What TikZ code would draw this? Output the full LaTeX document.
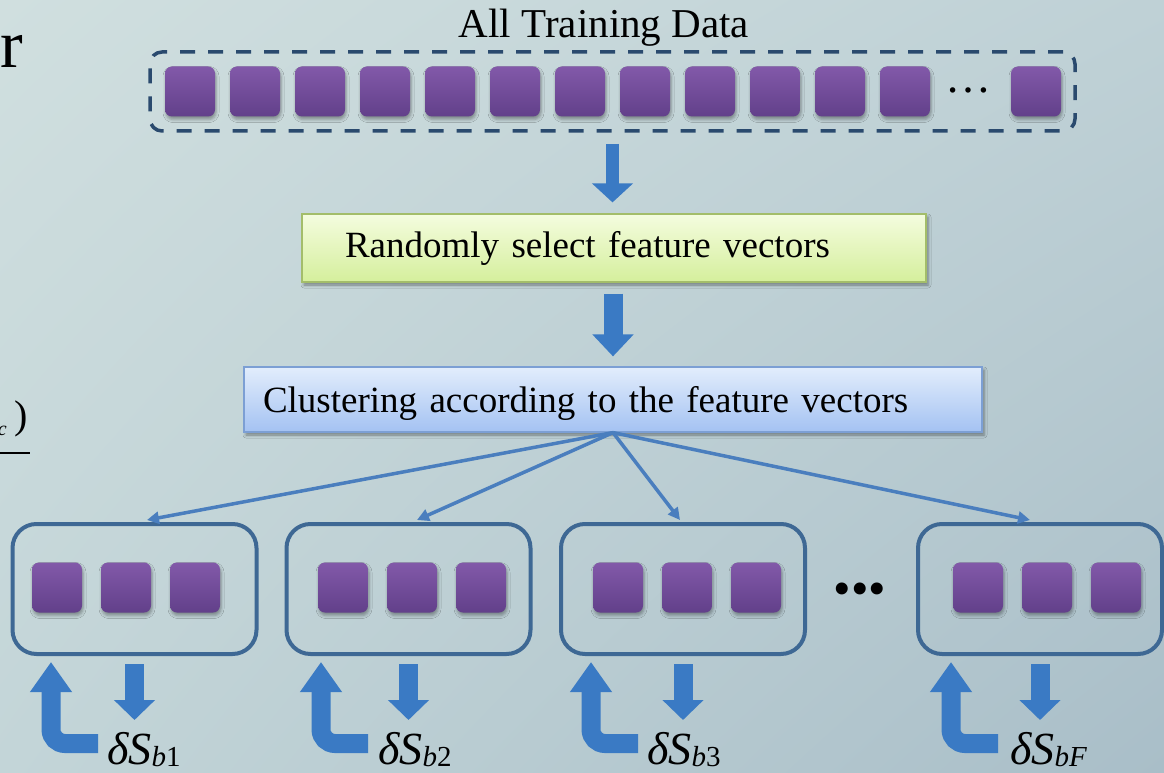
\documentclass[tikz,border=0pt]{standalone}
\usepackage{fontspec}
\setmainfont{Liberation Serif}
\usetikzlibrary{arrows.meta,shadows.blur,shadings}

\definecolor{bgUL}{HTML}{D0DFDF}
\definecolor{bgUR}{HTML}{BFD1D6}
\definecolor{bgLL}{HTML}{C3D5D8}
\definecolor{bgLR}{HTML}{A9BEC8}
\definecolor{cellTop}{HTML}{8259A9}
\definecolor{cellBot}{HTML}{62408A}
\definecolor{dashC}{HTML}{2A4A6E}
\definecolor{greenTop}{HTML}{F4FCDF}
\definecolor{greenBot}{HTML}{D5EF9C}
\definecolor{greenEdge}{HTML}{A3BD6A}
\definecolor{blueTop}{HTML}{E2EDFC}
\definecolor{blueBot}{HTML}{A4C2F2}
\definecolor{blueEdge}{HTML}{7C9FD4}
\definecolor{arrowBlue}{HTML}{3A7AC4}
\definecolor{lineBlue}{HTML}{4A7EBE}
\definecolor{boxBlue}{HTML}{3E6894}

% delta S with a lowered, smaller index
\newcommand\deltaS[1]{\textit{δS}\raisebox{-2pt}{\fontsize{29}{29}\selectfont #1}}

\begin{document}
\begin{tikzpicture}[x=1pt,y=-1pt,
  cell/.style={rounded corners=7pt, minimum width=50pt, minimum height=50pt,
    inner sep=0pt, top color=cellTop, bottom color=cellBot,
    blur shadow={shadow xshift=1pt, shadow yshift=-3pt,
      shadow blur radius=3pt, shadow opacity=35}},
  databox/.style={draw=dashC, line width=3.5pt, dash pattern=on 15pt off 13pt,
    rounded corners=12pt, minimum width=925pt, minimum height=79pt, inner sep=0pt},
  stepgreen/.style={draw=greenEdge, line width=1.2pt,
    top color=greenTop, bottom color=greenBot,
    text width=538pt, align=left, inner xsep=43pt, inner ysep=0pt,
    minimum height=68pt, font=\fontsize{37}{44}\selectfont,
    blur shadow={shadow xshift=2pt, shadow yshift=-3pt,
      shadow blur radius=3pt, shadow opacity=40}},
  stepblue/.style={draw=blueEdge, line width=1.2pt,
    top color=blueTop, bottom color=blueBot,
    text width=700pt, align=left, inner xsep=19pt, inner ysep=0pt,
    text height=25pt, text depth=0pt,
    minimum height=65pt, font=\fontsize{37}{44}\selectfont,
    blur shadow={shadow xshift=2pt, shadow yshift=-3pt,
      shadow blur radius=3pt, shadow opacity=40}},
  groupbox/.style={draw=boxBlue, line width=4pt, rounded corners=24pt,
    minimum width=244pt, minimum height=130pt, inner sep=0pt},
  conn/.style={draw=lineBlue, line width=3.5pt,
    -{Triangle[length=12pt,width=12pt]}},
  fatdown/.style={draw=arrowBlue, -{Triangle[width=40pt,length=#1]}},
  bentup/.style={draw=arrowBlue, line width=19pt, rounded corners=14pt,
    -{Triangle[width=40pt,length=30pt]}},
  deltalabel/.style={anchor=base west, inner sep=0pt, font=\fontsize{46}{46}\selectfont}
]
\useasboundingbox (0,0) rectangle (1164,773);
\clip (0,0) rectangle (1164,773);

% background
\shade[upper left=bgUL, upper right=bgUR, lower left=bgLL, lower right=bgLR]
  (0,0) rectangle (1164,773);

% pieces of slide text cut by the left edge
\node[anchor=base west, inner sep=0pt, font=\fontsize{68}{68}\selectfont] (edger) at (0,68) {r};
\node[anchor=base east, inner sep=0pt, font=\fontsize{20}{20}\selectfont\itshape] (edgec) at (7,435) {c};
\node[anchor=base east, inner sep=0pt, font=\fontsize{40}{40}\selectfont] (edgep) at (28,428) {)};
\draw[line width=1.5pt] (0,453) -- (30,453);

% all training data
\node[anchor=base, inner sep=0pt, font=\fontsize{41}{41}\selectfont] (title) at (604,38) {All Training Data};
\node[databox] (all) at (612.5,91.5) {};
\foreach \i in {0,...,11}
  \node[cell] (s\i) at ({190+65*\i},91.5) {};
\node[anchor=base, inner sep=0pt, font=\fontsize{46}{46}\selectfont] (sdots) at (968,93) {…};
\node[cell] (slast) at (1036,91.5) {};

% processing steps
\node[stepgreen] (select) at (614,248) {Randomly select feature vectors};
\node[stepblue] (cluster) at (613,399.5) {Clustering according to the feature vectors};

\draw[fatdown=19pt, line width=13pt, shorten <=11pt, shorten >=11pt]
  (all.south) -- (all.south |- select.north);
\draw[fatdown=22pt, line width=19pt, shorten <=11pt, shorten >=10pt]
  (cluster.north |- select.south) -- (cluster.north);

% cluster groups
\node[groupbox] (c1) at (134.5,589) {};
\node[groupbox] (c2) at (408.5,589) {};
\node[groupbox] (c3) at (683,589) {};
\node[groupbox] (c4) at (1040,589) {};

\foreach \b/\x in {1/57, 2/343, 3/618, 4/978}
  \foreach \k in {0,1,2}
    \node[cell] (q\b\k) at ({\x+69*\k},587.5) {};

\node[anchor=base, inner sep=0pt, font=\fontsize{50}{50}\selectfont] (cdots) at (860,605) {•••};

\foreach \b/\dx in {1/12.5, 2/8.5, 3/-3, 4/-10}
  \draw[conn] (cluster.south) -- ([xshift=\dx pt, yshift=2pt]c\b.north);

% per-group update arrows and labels
\foreach \b/\cx/\ux/\lx/\s in {1/134.5/51/107/\textit{b}1, 2/408.5/321/378/\textit{b}2, 3/683/591/647/\textit{b}3, 4/1040/951/1010/\textit{bF}} {
  \coordinate (d\b) at (\cx,720);
  \draw[fatdown=20pt, line width=19pt, shorten <=8pt] (c\b.south) -- (d\b);
  \coordinate (u\b) at ({\ux+47},743.5);
  \coordinate (h\b) at ([yshift=-6pt]c\b.south -| \ux,0);
  \draw[bentup] (u\b) -| (h\b);
  \node[deltalabel] (l\b) at (\lx,764) {\deltaS{\s}};
}
\end{tikzpicture}
\end{document}
